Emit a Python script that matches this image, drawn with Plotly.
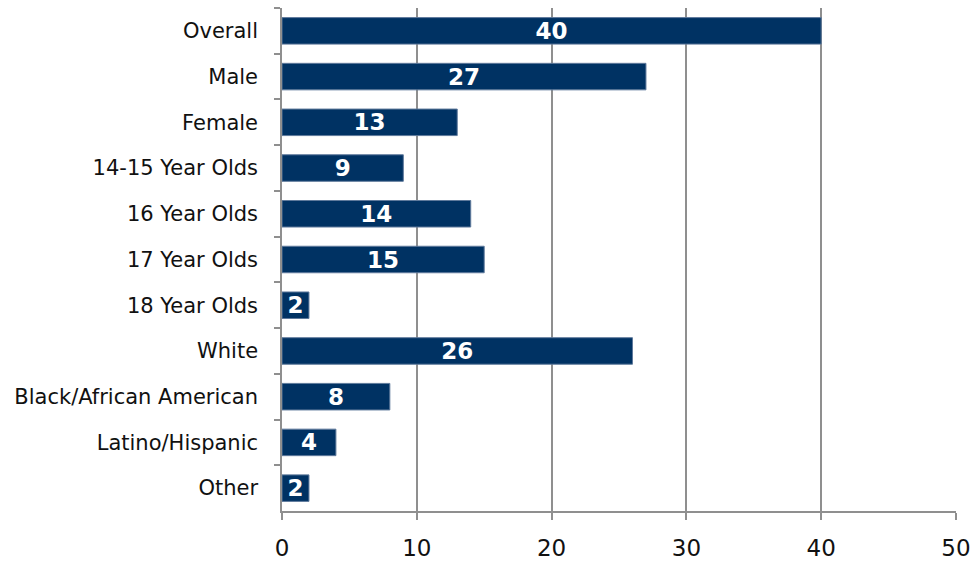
import plotly.graph_objects as go

# Group labels, top to bottom, and their counts
groups = [
    "Overall", "Male", "Female", "14-15 Year Olds", "16 Year Olds",
    "17 Year Olds", "18 Year Olds", "White", "Black/African American",
    "Latino/Hispanic", "Other",
]
counts = [40, 27, 13, 9, 14, 15, 2, 26, 8, 4, 2]
x_ticks = [0, 10, 20, 30, 40, 50]

NAVY = "#003263"
GRID = "#8f8f8f"
FONT = "DejaVu Sans, Verdana, sans-serif"

fig = go.Figure(
    go.Bar(
        x=counts,
        y=groups,
        orientation="h",
        marker=dict(color=NAVY, line=dict(color="#5f7a9c", width=1)),
        text=[str(v) for v in counts],
        textposition="inside",
        insidetextanchor="middle",
        textangle=0,
        constraintext="none",
        textfont=dict(family=FONT, size=23, color="white", weight="bold"),
        hoverinfo="x+y",
    )
)

fig.update_layout(
    width=974,
    height=565,
    margin=dict(l=282, r=18, t=8, b=54),
    paper_bgcolor="white",
    plot_bgcolor="white",
    bargap=0.42,
    showlegend=False,
    font=dict(family=FONT, color="#1a1a1a"),
)

fig.update_xaxes(
    range=[0, 50],
    tickvals=x_ticks,
    ticktext=[str(t) for t in x_ticks],
    showgrid=True,
    gridcolor=GRID,
    gridwidth=1.5,
    showline=True,
    linecolor=GRID,
    linewidth=1.5,
    ticks="outside",
    ticklen=7,
    tickcolor=GRID,
    tickwidth=1.5,
    tickfont=dict(family=FONT, size=23, color="#111111"),
    ticklabelstandoff=9,
    zeroline=False,
    automargin=False,
)

fig.update_yaxes(
    autorange="reversed",
    showgrid=False,
    showline=True,
    linecolor=GRID,
    linewidth=1.5,
    ticks="outside",
    tickson="boundaries",
    ticklen=6,
    tickcolor=GRID,
    tickwidth=1.5,
    tickfont=dict(family=FONT, size=21, color="#111111"),
    ticklabelstandoff=18,
    automargin=False,
)

fig.write_html("out.html")
